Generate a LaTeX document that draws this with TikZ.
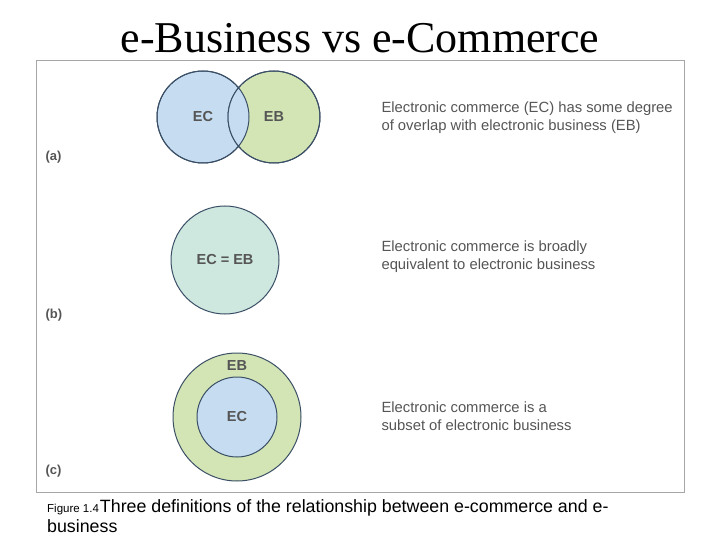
\documentclass[tikz,border=0pt]{standalone}
\usepackage{fontspec}
\setmainfont{Liberation Serif}
\newfontfamily\ar{Liberation Sans}
\definecolor{ecf}{HTML}{C6DCF0}
\definecolor{ebf}{HTML}{D3E5B4}
\definecolor{eqf}{HTML}{CEE8E0}
\definecolor{edge}{HTML}{3A4F66}
\definecolor{txt}{HTML}{555555}
\begin{document}
\begin{tikzpicture}[x=1pt,y=-1pt,
  circ/.style={circle,draw=edge,line width=1pt,inner sep=0pt},
  lab/.style={font=\ar\bfseries\fontsize{14.5}{16}\selectfont,text=txt},
  desc/.style={font=\ar\fontsize{14.8}{18}\selectfont,text=txt,align=left,anchor=west},
  part/.style={font=\ar\bfseries\fontsize{13}{15}\selectfont,text=txt,anchor=west}]
\useasboundingbox (0,0) rectangle (720,540);
\node (title) at (360,38) {\fontsize{44}{48}\selectfont e-Business vs e-Commerce};
\node[draw=gray!70,line width=0.8pt,minimum width=648pt,minimum height=432pt,anchor=north west,inner sep=0pt] (frame) at (36,60) {};
% (a)
\node[circ,fill=ecf,minimum size=92pt] (ec) at (203,117) {};
\node[circ,fill=ebf,minimum size=92pt] (eb) at (274,117) {};
\begin{scope}
\clip (203,117) circle (46pt);
\fill[ecf] (274,117) circle (46pt);
\end{scope}
\draw[edge,line width=1pt] (203,117) circle (46pt) (274,117) circle (46pt);
\node[lab] (ect) at (203,117) {EC};
\node[lab] (ebt) at (274,117) {EB};
\node[desc] (da) at (378,118) {Electronic commerce (EC) has some degree\\of overlap with electronic business (EB)};
\node[part] (pa) at (42,157) {(a)};
% (b)
\node[circ,fill=eqf,minimum size=108pt] (eq) at (225,260) {};
\node[lab] (eqt) at (225,260) {EC = EB};
\node[desc] (db) at (378,257) {Electronic commerce is broadly\\equivalent to electronic business};
\node[part] (pb) at (42,315) {(b)};
% (c)
\node[circ,fill=ebf,minimum size=128pt] (outer) at (237,417) {};
\node[circ,fill=ecf,minimum size=80pt] (inner) at (237,417) {};
\node[lab] (ebc) at (237,366) {EB};
\node[lab] (ecc) at (237,417) {EC};
\node[desc] (dc) at (378,416) {Electronic commerce is a\\subset of electronic business};
\node[part] (pc) at (42,471) {(c)};
% caption
\node[anchor=base west,inner sep=0pt,font=\ar] (cap) at (47,512) {{\fontsize{11.5}{13}\selectfont Figure 1.4}\hspace{1pt}{\fontsize{17.8}{20}\selectfont Three definitions of the relationship between e-commerce and e-}};
\node[anchor=base west,inner sep=0pt,font=\ar\fontsize{17.8}{20}\selectfont] (cap2) at (47,532) {business};
\end{tikzpicture}
\end{document}
